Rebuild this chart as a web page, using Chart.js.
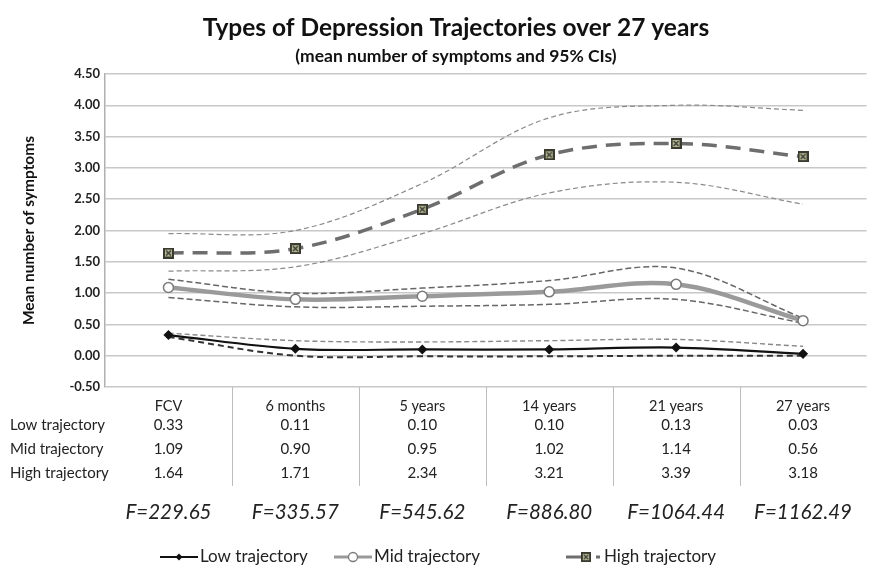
<!DOCTYPE html>
<html>
<head>
<meta charset="utf-8">
<script src="https://cdn.jsdelivr.net/npm/chart.js@4"></script>
<style>
  html, body { margin: 0; padding: 0; background: #fff; }
  #wrap { width: 875px; height: 566px; }
</style>
</head>
<body>
<div id="wrap"><canvas id="c" width="875" height="566"></canvas></div>
<script>
// Depression trajectories: mean symptoms per wave, with 95% CI bands.
var categories = ["FCV", "6 months", "5 years", "14 years", "21 years", "27 years"];

var lowMean  = [0.33, 0.11, 0.10, 0.10, 0.13, 0.03];
var midMean  = [1.09, 0.90, 0.95, 1.02, 1.14, 0.56];
var highMean = [1.64, 1.71, 2.34, 3.21, 3.39, 3.18];

// CI bounds (estimated)
var lowUpper  = [0.36, 0.24, 0.22, 0.24, 0.26, 0.15];
var lowLower  = [0.30, 0.00, -0.01, -0.01, 0.00, 0.00];
var midUpper  = [1.22, 1.00, 1.08, 1.20, 1.40, 0.60];
var midLower  = [0.93, 0.78, 0.79, 0.82, 0.90, 0.52];
var highUpper = [1.95, 2.00, 2.75, 3.80, 4.00, 3.92];
var highLower = [1.35, 1.42, 1.95, 2.60, 2.77, 2.42];

var fValues = ["F=229.65", "F=335.57", "F=545.62", "F=886.80", "F=1064.44", "F=1162.49"];
var rowNames = ["Low trajectory", "Mid trajectory", "High trajectory"];

var FONT = "Lato, 'Noto Sans', sans-serif";

// square marker with a cross, like the Excel "x in box" style
function boxMarker() {
  var cv = document.createElement("canvas");
  cv.width = 11; cv.height = 11;
  var g = cv.getContext("2d");
  g.fillStyle = "#3a3a30"; g.fillRect(0, 0, 11, 11);
  g.fillStyle = "#b4b890"; g.fillRect(2, 2, 7, 7);
  g.strokeStyle = "#333"; g.lineWidth = 1.2;
  g.beginPath(); g.moveTo(3, 3); g.lineTo(8, 8); g.moveTo(8, 3); g.lineTo(3, 8); g.stroke();
  return cv;
}

function ciSet(data, color, width, dash) {
  return { data: data, borderColor: color, borderWidth: width, borderDash: dash,
           pointRadius: 0, tension: 0.35, fill: false, order: 5 };
}

var mainSets = [
  { label: "Low trajectory", data: lowMean, borderColor: "#111", borderWidth: 2.2,
    pointStyle: "rectRot", pointRadius: 3.5, pointBackgroundColor: "#111", pointBorderColor: "#111",
    tension: 0.35, order: 1 },
  { label: "Mid trajectory", data: midMean, borderColor: "#9a9a9a", borderWidth: 4.5,
    pointStyle: "circle", pointRadius: 5, pointBackgroundColor: "#fff", pointBorderColor: "#7a7a7a",
    pointBorderWidth: 1.5, tension: 0.35, order: 2 },
  { label: "High trajectory", data: highMean, borderColor: "#6e6e6e", borderWidth: 3.5,
    borderDash: [15, 9], pointStyle: boxMarker(), pointRadius: 5,
    tension: 0.35, order: 3 }
];

var datasets = mainSets.concat([
  ciSet(lowUpper, "#888", 1.4, [5, 3]),
  ciSet(lowLower, "#333", 2, [6, 4]),
  ciSet(midUpper, "#666", 1.5, [6, 3]),
  ciSet(midLower, "#666", 1.5, [6, 3]),
  ciSet(highUpper, "#8a8a8a", 1.2, [5, 3]),
  ciSet(highLower, "#8a8a8a", 1.2, [5, 3])
]);

var tablePlugin = {
  id: "tablePlugin",
  afterDraw: function (chart) {
    var ctx = chart.ctx, x = chart.scales.x, area = chart.chartArea;
    var rows = [lowMean, midMean, highMean];
    var rowY = [425, 449, 473];
    ctx.save();

    // title + subtitle
    ctx.fillStyle = "#111"; ctx.textAlign = "center"; ctx.textBaseline = "middle";
    ctx.font = "bold 24.5px " + FONT;
    ctx.fillText("Types of Depression Trajectories over 27 years", 456, 28);
    ctx.font = "bold 17.5px " + FONT;
    ctx.fillText("(mean number of symptoms and 95% CIs)", 456, 56);

    // column separators under the plot
    ctx.strokeStyle = "#bdbdbd"; ctx.lineWidth = 1;
    for (var i = 1; i < categories.length; i++) {
      var sx = Math.round((x.getPixelForValue(i - 1) + x.getPixelForValue(i)) / 2) + 0.5;
      ctx.beginPath(); ctx.moveTo(sx, area.bottom); ctx.lineTo(sx, 486); ctx.stroke();
    }

    // data table
    ctx.fillStyle = "#222"; ctx.font = "15px " + FONT;
    rows.forEach(function (vals, r) {
      ctx.textAlign = "left";
      ctx.fillText(rowNames[r], 10, rowY[r]);
      ctx.textAlign = "center";
      vals.forEach(function (v, c) { ctx.fillText(v.toFixed(2), x.getPixelForValue(c), rowY[r]); });
    });

    // F statistics
    ctx.font = "italic 20.5px " + FONT; ctx.fillStyle = "#222";
    fValues.forEach(function (f, c) { ctx.fillText(f, x.getPixelForValue(c), 512); });

    // legend
    var legendX = [160, 334, 566];
    var ly = 557;
    ctx.font = "17px " + FONT; ctx.textAlign = "left";
    mainSets.forEach(function (ds, k) {
      var lx = legendX[k];
      ctx.strokeStyle = ds.borderColor;
      ctx.lineWidth = Math.min(ds.borderWidth, 3);
      ctx.beginPath();
      if (k === 2) { ctx.moveTo(lx, ly); ctx.lineTo(lx + 22, ly); ctx.moveTo(lx + 30, ly); ctx.lineTo(lx + 34, ly); }
      else { ctx.moveTo(lx, ly); ctx.lineTo(lx + 38, ly); }
      ctx.stroke();
      var mx = k === 2 ? lx + 20 : lx + 19;
      if (k === 0) {
        ctx.fillStyle = "#111";
        ctx.beginPath(); ctx.moveTo(mx, ly - 3.5); ctx.lineTo(mx + 3.5, ly); ctx.lineTo(mx, ly + 3.5); ctx.lineTo(mx - 3.5, ly); ctx.closePath(); ctx.fill();
      } else if (k === 1) {
        ctx.fillStyle = "#fff"; ctx.strokeStyle = "#7a7a7a"; ctx.lineWidth = 1.3;
        ctx.beginPath(); ctx.arc(mx, ly, 4.5, 0, Math.PI * 2); ctx.fill(); ctx.stroke();
      } else {
        ctx.drawImage(ds.pointStyle, mx - 5, ly - 5, 10, 10);
      }
      ctx.fillStyle = "#222";
      ctx.fillText(ds.label, lx + (k === 2 ? 38 : 40), ly);
    });
    ctx.restore();
  }
};

new Chart(document.getElementById("c"), {
  type: "line",
  data: { labels: categories, datasets: datasets },
  plugins: [tablePlugin],
  options: {
    responsive: false,
    animation: false,
    layout: { padding: { top: 74, left: 20, right: 3, bottom: 0 } },
    plugins: { legend: { display: false }, tooltip: { enabled: false } },
    scales: {
      x: {
        offset: true,
        grid: { display: false, offset: true },
        border: { display: false },
        ticks: { color: "#222", font: { family: FONT, size: 14.5 }, padding: 3, maxRotation: 0 },
        afterFit: function (s) { s.height = 566 - 387; }
      },
      y: {
        min: -0.5, max: 4.5,
        grid: { color: "#c8c8c8", lineWidth: 1.5, drawTicks: false },
        border: { display: true, color: "#b0b0b0", width: 1.5 },
        ticks: { stepSize: 0.5, padding: 5, color: "#222",
                 font: { family: FONT, size: 13, weight: "bold" },
                 callback: function (v) { return Number(v).toFixed(2); } },
        title: { display: true, text: "Mean number of symptoms", color: "#111",
                 font: { family: FONT, size: 15.5, weight: "bold" }, padding: { top: 0, bottom: 10 } },
        afterFit: function (s) { s.width = 85; }
      }
    }
  }
});
</script>
</body>
</html>
